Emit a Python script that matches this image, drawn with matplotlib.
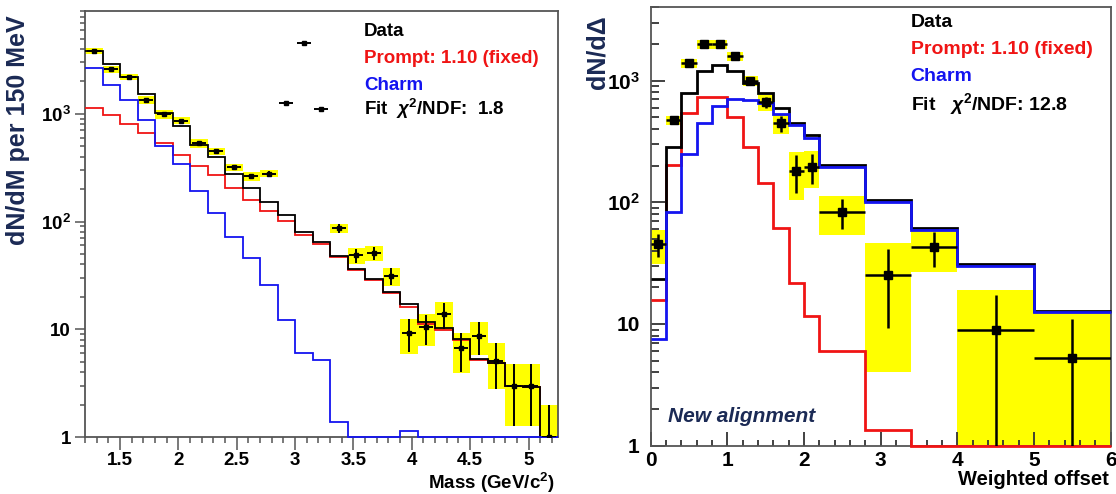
import matplotlib.pyplot as plt
import numpy as np
from matplotlib.ticker import LogLocator, MultipleLocator, NullFormatter, FuncFormatter

plt.rcParams['font.family'] = ['Liberation Sans', 'DejaVu Sans']
plt.rcParams['font.weight'] = 'bold'
plt.rcParams['mathtext.fontset'] = 'custom'
plt.rcParams['mathtext.rm'] = 'Liberation Sans:bold'
plt.rcParams['mathtext.bf'] = 'Liberation Sans:bold'
plt.rcParams['mathtext.it'] = 'Liberation Sans:italic'
plt.rcParams['mathtext.default'] = 'rm'

# ---- left panel: mass spectrum, 150 MeV bins ----
mass_edges = np.linspace(1.2, 5.25, 28)
mass_data = [3830, 2590, 2215, 1340, 994, 861, 531, 448, 318, 263, 278, 1273, 4540, 1120,
             86.7, 48.4, 51.3, 31.4, 9.25, 10.4, 13.9, 6.63, 8.74, 5.09, 3.0, 3.0, 1.0]
mass_err = [62, 51, 47, 37, 32, 29, 23, 21, 18, 16, 17, 36, 67, 33,
            9, 7, 7, 5.6, 3.1, 3.3, 3.8, 2.6, 3.0, 2.3, 1.73, 1.73, 1.0]
mass_box = [275, 190, 145, 120, 90, 64, 48, 36, 25, 24, 21, 0, 0, 0,
            9, 8, 8, 6, 3.3, 3.4, 4.0, 2.7, 3.0, 2.3, 1.73, 1.73, 1.0]
mass_fit = [3850, 2880, 2200, 1520, 1028, 769, 517, 394, 276, 205, 151, 114, 80.8, 64.5,
            48, 36.6, 29.5, 22.4, 17.2, 11.8, 10.2, 8.2, 5.3, 4.85, 3.0, 2.9, 1.0]
mass_prompt = [1130, 973, 802, 657, 531, 417, 325, 270, 205, 160, 124, 102, 74.2, 62.1,
               46.7, 35.7, 28.8, 21.7, 16.1, 11.3, 9.8, 7.9, 5.2, 4.9, 3.0, 2.9, 1.0]
mass_charm = [2680, 1857, 1348, 875, 502, 342, 191, 120, 71.6, 46.1, 25.6, 12.3, 5.96, 5.16,
              1.39, 1, 1, 1, 1.14, 1, 1, 1, 1, 1, 1, 1, 1]
mass_legend = ["Data", "Prompt: 1.10 (fixed)", "Charm", r"Fit  $\mathit{\chi}^{2}$/NDF:  1.8"]

# ---- right panel: weighted offset, variable bins ----
off_edges = [0, 0.2, 0.4, 0.6, 0.8, 1.0, 1.2, 1.4, 1.6, 1.8, 2.0, 2.2, 2.8, 3.4, 4.0, 5.0, 6.0]
off_data = [45.4, 475, 1387, 1986, 1986, 1592, 998, 663, 446, 182, 196, 83.2, 25.3, 43.2, 8.93, 5.22]
off_err = [10, 22, 37, 45, 45, 40, 32, 72, 66, 62, 55, 23, 16, 14, 8.5, 5.8]
off_box = [14, 40, 120, 170, 170, 135, 95, 96, 85, 78, 66, 29, 21.3, 16.5, 10.1, 7.0]
off_fit = [23.3, 286, 787, 1199, 1343, 1206, 950, 787, 592, 446, 355, 204, 104, 61, 31, 12.9]
off_prompt = [15.7, 202, 539, 729, 729, 499, 283, 145, 61.8, 21.6, 11.6, 6.04, 1.35, 1, 1, 1]
off_charm = [7.5, 83.7, 249, 451, 618, 706, 692, 650, 532, 432, 340, 196, 101, 59.2, 30.1, 12.6]
off_legend = ["Data", "Prompt: 1.10 (fixed)", "Charm", r"Fit   $\mathit{\chi}^{2}$/NDF: 12.8"]

RED = '#f01414'
BLUE = '#1414f0'
YELLOW = '#ffff00'
NAVY = '#1b2a55'
FRAME = '#555555'


def log_label(v, pos):
    labels = {1: '1', 10: '10', 100: '$10^{2}$', 1000: '$10^{3}$'}
    return labels.get(int(round(v)), '')


def draw(ax, edges, data, err, box, fit, prompt, charm, xhalf, lw, ms, elw):
    edges = np.asarray(edges, dtype=float)
    data = np.asarray(data, dtype=float)
    err = np.asarray(err, dtype=float)
    box = np.asarray(box, dtype=float)
    centers = 0.5 * (edges[1:] + edges[:-1])
    widths = np.diff(edges)

    # yellow systematic boxes
    sel = box > 0
    lo = np.maximum(data - box, 0.05)
    hi = data + box
    ax.bar(centers[sel], (hi - lo)[sel], bottom=lo[sel], width=widths[sel],
           color=YELLOW, linewidth=0, zorder=1)

    # model histograms
    ax.stairs(prompt, edges, baseline=None, color=RED, lw=lw, zorder=3, clip_on=False)
    ax.stairs(fit, edges, baseline=None, color='black', lw=lw, zorder=3.1, clip_on=False)
    ax.stairs(charm, edges, baseline=None, color=BLUE, lw=lw, zorder=3.2, clip_on=False)

    # data points
    if xhalf is None:
        xerr = widths / 2
    else:
        xerr = np.full(len(centers), xhalf)
    yerr_lo = np.minimum(err, data - 0.05)
    ax.errorbar(centers, data, yerr=[yerr_lo, err], xerr=xerr, fmt='s', color='black',
                ms=ms, elinewidth=elw, capsize=0, zorder=4)


fig = plt.figure(figsize=(11.16, 4.94), dpi=100)
axL = fig.add_axes([85 / 1116, 1 - 437 / 494, 472.7 / 1116, 426 / 494])
axR = fig.add_axes([650.7 / 1116, 1 - 445.7 / 494, 460 / 1116, 438.4 / 494])

draw(axL, mass_edges, mass_data, mass_err, mass_box, mass_fit, mass_prompt, mass_charm,
     0.06, 1.3, 3.4, 1.4)
draw(axR, off_edges, off_data, off_err, off_box, off_fit, off_prompt, off_charm,
     None, 2.0, 5.5, 1.8)

for ax, ymax in ((axL, 9000), (axR, 4000)):
    ax.set_yscale('log')
    ax.set_ylim(1, ymax)
    ax.yaxis.set_major_locator(LogLocator(base=10))
    ax.yaxis.set_minor_locator(LogLocator(base=10, subs=np.arange(2, 10)))
    ax.yaxis.set_major_formatter(FuncFormatter(log_label))
    ax.yaxis.set_minor_formatter(NullFormatter())
    ax.xaxis.set_major_formatter(FuncFormatter(lambda v, p: '%g' % v))
    for s in ax.spines.values():
        s.set_color(FRAME)
        s.set_linewidth(1.3)

axL.set_xlim(1.2, 5.25)
axL.xaxis.set_major_locator(MultipleLocator(0.5))
axL.xaxis.set_minor_locator(MultipleLocator(0.1))
axL.tick_params(axis='both', which='both', direction='out', color=FRAME, width=1.1)
axL.tick_params(axis='x', which='major', length=9, pad=2, labelsize=13.5)
axL.tick_params(axis='x', which='minor', length=4.5)
axL.tick_params(axis='y', which='major', length=7, pad=3, labelsize=13.5)
axL.tick_params(axis='y', which='minor', length=3.5)

axR.set_xlim(0, 6)
axR.xaxis.set_major_locator(MultipleLocator(1))
axR.xaxis.set_minor_locator(MultipleLocator(0.2))
axR.tick_params(axis='both', which='both', direction='in', color='#333333', width=1.3)
axR.tick_params(axis='x', which='major', length=10, pad=4, labelsize=15)
axR.tick_params(axis='x', which='minor', length=4.5)
axR.tick_params(axis='y', which='major', length=10, pad=8, labelsize=15)
axR.tick_params(axis='y', which='minor', length=5.5)

legend_colors = ['black', RED, BLUE, 'black']
for ax, labels, x0, ys, fs in ((axL, mass_legend, 0.59, [0.951, 0.889, 0.826, 0.770], 13.5),
                               (axR, off_legend, 0.565, [0.966, 0.904, 0.842, 0.779], 14)):
    for lab, col, y in zip(labels, legend_colors, ys):
        ax.text(x0, y, lab, transform=ax.transAxes, color=col, fontsize=fs,
                fontweight='bold', ha='left', va='center', zorder=5)

axR.text(0.0376, 0.066, "New alignment", transform=axR.transAxes, color=NAVY, fontsize=15,
         fontweight='bold', style='italic', ha='left', va='center')

fig.text(18 / 1116, 1 - 130 / 494, "dN/dM per 150 MeV", rotation=90, color=NAVY,
         fontsize=18, fontweight='bold', ha='center', va='center')
fig.text(597 / 1116, 1 - 52 / 494, "dN/d\u0394", rotation=90, color=NAVY,
         fontsize=18, fontweight='bold', ha='center', va='center')
fig.text(555 / 1116, 1 - 483 / 494, "Mass (GeV/c$^{2}$)", fontsize=13.5,
         fontweight='bold', ha='right', va='center')
fig.text(1109 / 1116, 1 - 479 / 494, "Weighted offset", fontsize=14.5,
         fontweight='bold', ha='right', va='center')

fig.savefig('out.png', dpi=100)
